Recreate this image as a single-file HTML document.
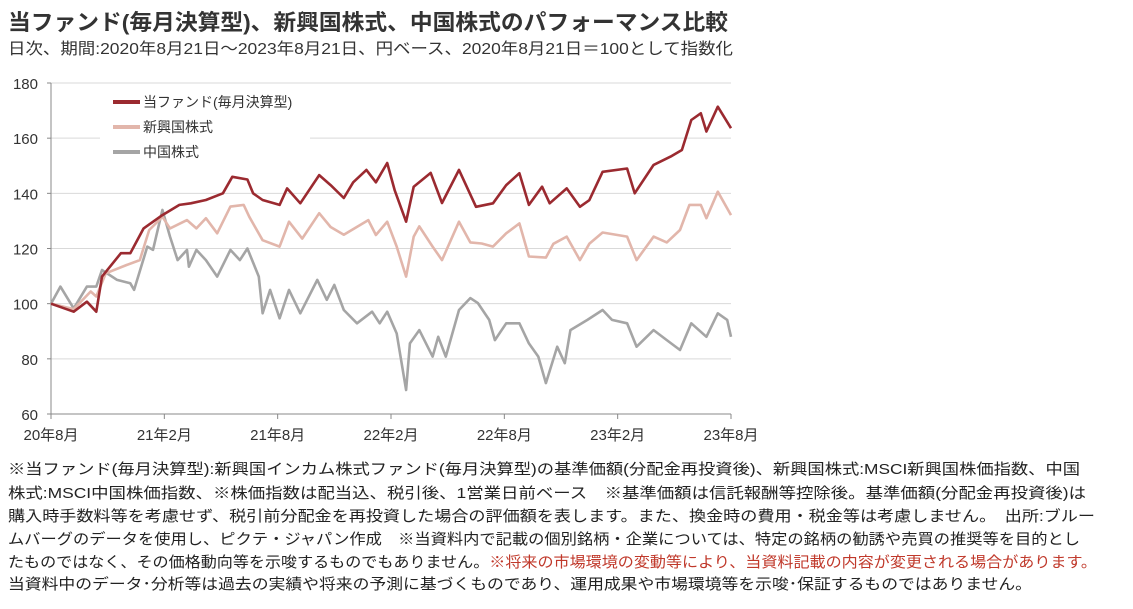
<!DOCTYPE html>
<html><head><meta charset="utf-8"><style>
html,body{margin:0;padding:0;background:#fff;width:1133px;height:609px;overflow:hidden}
svg{display:block;font-family:"Liberation Sans","Noto Sans CJK JP",sans-serif}
</style></head><body>
<svg id="c" width="1133" height="609" viewBox="0 0 1133 609">
<text x="8" y="30" font-size="22" font-weight="bold" fill="#333" textLength="720" lengthAdjust="spacingAndGlyphs">当ファンド(毎月決算型)、新興国株式、中国株式のパフォーマンス比較</text>
<text x="8" y="54" font-size="16" fill="#333" textLength="725" lengthAdjust="spacingAndGlyphs">日次、期間:2020年8月21日～2023年8月21日、円ベース、2020年8月21日＝100として指数化</text>
<g id="grid"></g><g id="axes"></g><g id="series"></g><g id="legend"></g>
<g font-size="15" fill="#222">
<text x="8" y="474" textLength="1072" lengthAdjust="spacingAndGlyphs">※当ファンド(毎月決算型):新興国インカム株式ファンド(毎月決算型)の基準価額(分配金再投資後)、新興国株式:MSCI新興国株価指数、中国</text>
<text x="8" y="498" textLength="1078" lengthAdjust="spacingAndGlyphs">株式:MSCI中国株価指数、※株価指数は配当込、税引後、1営業日前ベース　※基準価額は信託報酬等控除後。基準価額(分配金再投資後)は</text>
<text x="8" y="521" textLength="1087" lengthAdjust="spacingAndGlyphs">購入時手数料等を考慮せず、税引前分配金を再投資した場合の評価額を表します。また、換金時の費用・税金等は考慮しません。　出所:ブルー</text>
<text x="8" y="544" textLength="1072" lengthAdjust="spacingAndGlyphs">ムバーグのデータを使用し、ピクテ・ジャパン作成　※当資料内で記載の個別銘柄・企業については、特定の銘柄の勧誘や売買の推奨等を目的とし</text>
<text x="8" y="567" textLength="1089" lengthAdjust="spacingAndGlyphs">たものではなく、その価格動向等を示唆するものでもありません。<tspan fill="#c0392b">※将来の市場環境の変動等により、当資料記載の内容が変更される場合があります。</tspan></text>
<text x="8" y="589" textLength="1024" lengthAdjust="spacingAndGlyphs">当資料中のデータ･分析等は過去の実績や将来の予測に基づくものであり、運用成果や市場環境等を示唆･保証するものではありません。</text>
</g>
</svg>
<script>
const yTicks=[60,80,100,120,140,160,180];
const xTickMonths=[0,6,12,18,24,30,36];
const xTickLabels=["20年8月","21年2月","21年8月","22年2月","22年8月","23年2月","23年8月"];
const seriesNames=["当ファンド(毎月決算型)","新興国株式","中国株式"];
const fundM=[0,1.2,1.9,2.4,2.7,3.7,4.2,4.9,5.9,6.8,7.4,8.2,9.1,9.6,10.4,10.7,11.2,12.1,12.5,13.2,14.2,14.8,15.5,16,16.7,17.2,17.8,18.2,18.8,19.2,20.1,20.7,21.6,22.5,23.4,24.1,24.8,25.3,26,26.4,27.3,28,28.5,29.2,30.5,30.9,31.9,32.8,33.4,33.9,34.4,34.7,35.3,36];
const fundV=[100,97.1,100.7,97.1,109.8,118.3,118.3,127.3,132.1,135.8,136.4,137.6,140,146,145,140,137.6,135.8,141.8,136.4,146.6,143,138.3,144,148.5,144,151,141,129.7,142.4,147.4,136.5,148.5,135.1,136.4,143,147.3,135.8,142.4,136.4,141.8,135.1,137.5,147.8,149,140,150.3,153.3,155.7,166.6,169,162.4,171.4,163.6];
const emM=[0,1.2,2.1,2.4,2.9,4,4.7,5.2,5.9,6.3,7.2,7.7,8.2,8.8,9.5,10.2,10.5,11.2,12.1,12.6,13.3,14.2,14.8,15.5,16.8,17.2,17.8,18.3,18.8,19.2,19.5,20.2,20.7,21.6,22.2,22.8,23.4,24.1,24.8,25.3,26.2,26.6,27.3,28,28.5,29.2,30.5,31,31.9,32.6,33.3,33.8,34.4,34.7,35.3,36];
const emV=[100,98,104.4,102.6,111,114,115.8,126.7,131.5,127.3,130.3,127.3,131,125.5,135.2,135.8,131.5,123,120.7,129.7,123.6,132.8,127.8,125,130.3,124.9,129.7,120.7,109.8,124.3,128,120.7,115.8,129.7,122.2,121.8,120.7,125.5,129.1,117.1,116.7,121.7,124.3,115.8,121.7,125.8,124.3,115.8,124.3,122.2,126.7,135.8,135.8,131,140.6,132.1];
const cnM=[0,0.5,1.2,1.9,2.4,2.7,3.5,4.2,4.4,5.1,5.4,5.9,6.3,6.7,7.2,7.3,7.7,8.2,8.8,9.5,10,10.4,11,11.2,11.6,12.1,12.6,13.2,14.1,14.6,15,15.5,16.2,17,17.4,17.8,18.3,18.8,19,19.5,20.2,20.5,20.9,21.6,22.2,22.6,23.2,23.5,24.1,24.8,25.3,25.8,26.2,26.8,27.2,27.5,28.4,29.2,29.7,30.5,31,31.9,32.6,33.3,33.9,34.7,35.3,35.8,36];
const cnV=[100,106.2,98.3,106.2,106.2,112.2,108.6,107.4,105,120.7,119.5,134,124.3,115.8,119.5,113.4,119.5,115.8,109.8,119.5,115.8,120,109.8,96.5,105,94.7,105,96.5,108.6,101.4,106.8,97.7,92.9,97.1,92.9,97.1,89.2,68.7,85.6,90.4,80.8,88,80.8,97.7,102,100.2,94.1,86.8,92.9,92.9,85.6,80.8,71.2,84.4,78.4,90.4,94.1,97.7,94.1,92.9,84.4,90.4,86.8,83.2,92.9,88,96.5,94.1,88];
const colors=["#9b2a30","#e2b6ab","#a5a5a5"];
const NS="http://www.w3.org/2000/svg";
const X0=51,X1=731,Y0=414,Y1=83;
function xs(m){return X0+(m/36)*(X1-X0);}
function ys(v){return Y0-(v-60)/120*(Y0-Y1);}
function mk(t,a,p){const e=document.createElementNS(NS,t);for(const k in a)e.setAttribute(k,a[k]);p.appendChild(e);return e;}
const grid=document.getElementById('grid'),axes=document.getElementById('axes'),ser=document.getElementById('series'),leg=document.getElementById('legend');
yTicks.forEach(v=>{
 if(v>60){const l=mk('line',{x1:X0,x2:X1,y1:ys(v),y2:ys(v),stroke:'#d9d9d9','stroke-width':1},grid);
 
 }
 const t=mk('text',{x:X0-13,y:ys(v)+6,'text-anchor':'end','font-size':15,fill:'#333'},axes);t.textContent=v;
 
 
 mk('line',{x1:X0-4,x2:X0,y1:ys(v),y2:ys(v),stroke:'#888'},axes);
});
const ya=mk('line',{x1:X0,x2:X0,y1:Y1,y2:Y0,stroke:'#888'},axes);


const xa=mk('line',{x1:X0,x2:X1,y1:Y0,y2:Y0,stroke:'#888'},axes);


xTickMonths.forEach((m,i)=>{
 mk('line',{x1:xs(m),x2:xs(m),y1:Y0,y2:Y0+5,stroke:'#888'},axes);
 const t=mk('text',{x:xs(m),y:Y0+26,'text-anchor':'middle','font-size':15,fill:'#333'},axes);t.textContent=xTickLabels[i];
 
 
});
const data=[[cnM,cnV],[emM,emV],[fundM,fundV]];const ci=[2,1,0];
data.forEach((d,k)=>{
 const pts=d[0].map((m,i)=>xs(m).toFixed(1)+','+ys(d[1][i]).toFixed(1)).join(' ');
 const p=mk('polyline',{points:pts,fill:'none',stroke:colors[ci[k]],'stroke-width':2.6,'stroke-linejoin':'round'},ser);
 
 
});
mk('rect',{x:100,y:89,width:210,height:76,fill:'#fff'},leg);
seriesNames.forEach((n,i)=>{
 const y=102+i*25;
 const g=mk('g',{},leg);
 
 
 mk('line',{x1:113,x2:140,y1:y,y2:y,stroke:colors[i],'stroke-width':4},g);
 const t=mk('text',{x:143,y:y+5,'font-size':14,fill:'#333'},g);t.textContent=n;
});
</script>
</body></html>
